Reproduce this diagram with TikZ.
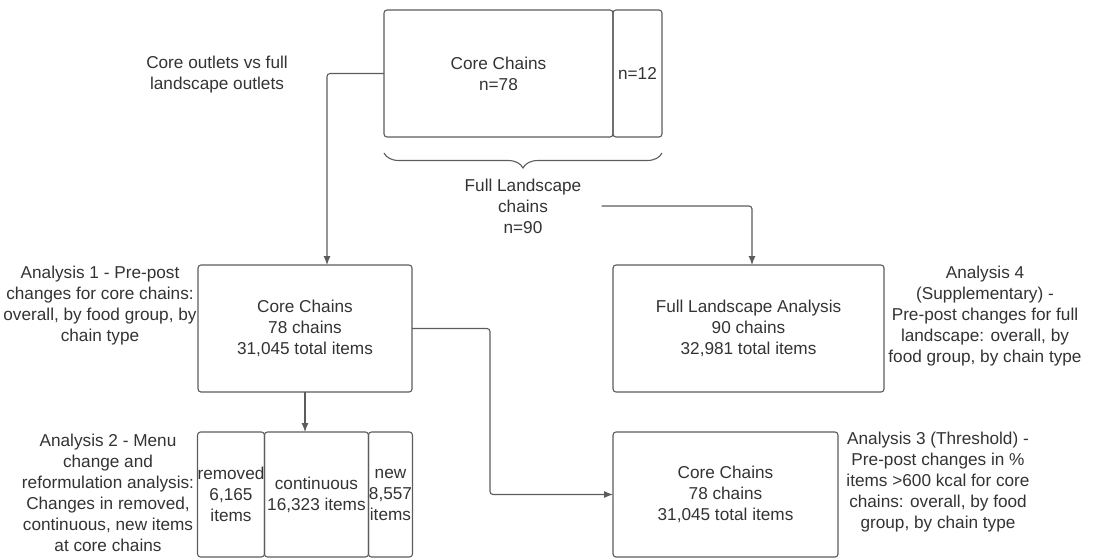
\documentclass[tikz,border=0pt]{standalone}
\usepackage{fontspec}
\setmainfont{Liberation Sans}
\usepackage{tikz}
\usetikzlibrary{arrows.meta, positioning, decorations.pathreplacing, calc}
\definecolor{linegray}{HTML}{5C5C5C}
\definecolor{textgray}{HTML}{333333}
\tikzset{%
	box/.style={draw=linegray, line width=1.1pt, rectangle, rounded corners=3pt,%
		inner sep=0pt, outer sep=0pt, align=center, text=textgray},
	note/.style={align=center, inner sep=3pt, text=textgray},
	sel/.style={-{Latex[length=9pt,width=7pt]}, draw=linegray, line width=1.1pt, rounded corners=3pt},
	bracket/.style={draw=linegray, line width=1.1pt, decorate,%
		decoration={brace, mirror, amplitude=15pt}}
}

\begin{document}
\begin{tikzpicture}[x=1pt, y=-1pt, font=\fontsize{17.2}{21}\selectfont]
		\useasboundingbox (0,0) rectangle (1094,558);
		% top: core and other chains
		\node[box, minimum width=229pt, minimum height=127pt] (core0) at (498.5,73.5) {Core Chains\\n=78};
		\node[box, minimum width=49pt, minimum height=127pt, right=0pt of core0] (xtra) {n=12};
		\node[note] (outlets) at (217,75) {Core outlets vs full\\landscape outlets};
		\draw[bracket] ([yshift=-16pt]core0.south west) -- ([yshift=-16pt]xtra.south east);
		\node[note] (full) at (523,206) {Full Landscape\\chains\\n=90};
		% middle row
		\node[box, minimum width=214pt, minimum height=127pt] (core1) at (305,328.5) {Core Chains\\78 chains\\31,045 total items};
		\node[box, minimum width=271pt, minimum height=127pt] (fullan) at (748.5,328.5) {Full Landscape Analysis\\90 chains\\32,981 total items};
		\node[note] (an1) at (100,306) {Analysis 1 - Pre-post\\changes for core chains:\\overall, by food group, by\\chain type};
		\node[note] (an4) at (985,316) {Analysis 4\\(Supplementary) -\\Pre-post changes for full\\landscape: overall, by\\food group, by chain type};
		% bottom row
		\node[box, minimum width=66pt, minimum height=125pt] (rem) at (231,494.5) {removed\\6,165\\items};
		\node[box, minimum width=104pt, minimum height=125pt, right=0pt of rem] (cont) {continuous\\16,323 items};
		\node[box, minimum width=44pt, minimum height=125pt, right=0pt of cont] (new) {new\\8,557\\items};
		\node[box, minimum width=225pt, minimum height=125pt] (core2) at (725.5,494.5) {Core Chains\\78 chains\\31,045 total items};
		\node[note] (an2) at (108,492.5) {Analysis 2 - Menu\\change and\\reformulation analysis:\\Changes in removed,\\continuous, new items\\at core chains};
		\node[note] (an3) at (938,482) {Analysis 3 (Threshold) -\\Pre-post changes in \%\\items >600 kcal for core\\chains: overall, by food\\group, by chain type};
		% connectors
		\draw[sel] (core0.west) -| ([xshift=22pt]core1.north);
		\draw[sel] ([xshift=17pt]full.east) -| ([xshift=3.5pt]fullan.north);
		\draw[sel] (core1.south) -- (core1.south |- cont.north);
		\draw[sel] (core1.east) -- ++(78,0) |- (core2.west);

	\end{tikzpicture}
\end{document}
